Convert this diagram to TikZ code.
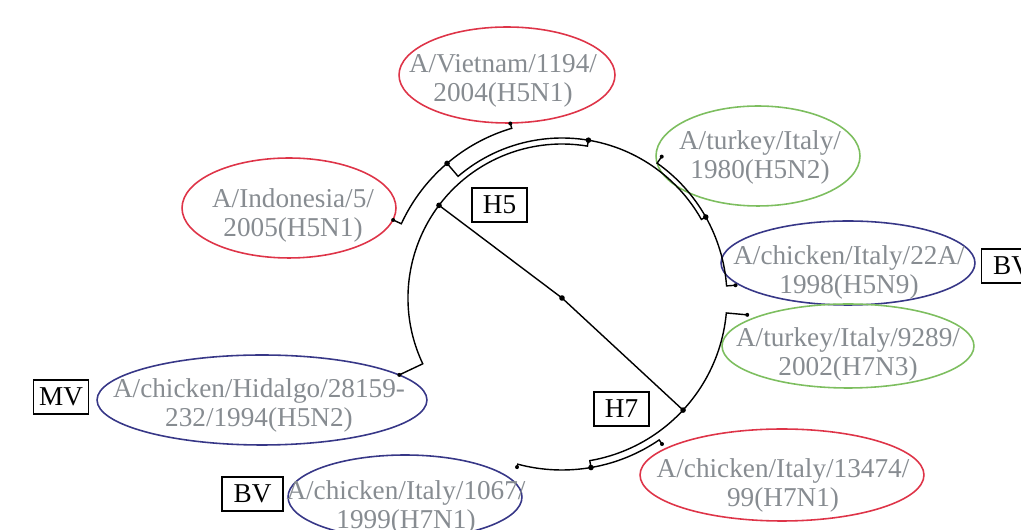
\documentclass[tikz,border=0pt]{standalone}
\usepackage{fontspec}
\setmainfont{Liberation Serif}
\usepackage{tikz}
\usetikzlibrary{shapes.geometric}
\definecolor{ringred}{RGB}{222,52,72}
\definecolor{ringgreen}{RGB}{125,190,95}
\definecolor{ringblue}{RGB}{55,55,135}
\definecolor{straingray}{RGB}{135,140,145}
\begin{document}
\begin{tikzpicture}[x=0.02cm, y=0.02cm]
  \tikzset{
    branch/.style={
      draw=black,
      line width=0.8pt
    },
    strainring/.style={
      draw,
      ellipse,
      inner sep=0pt,
      line width=0.9pt
    },
    strain/.style={
      font=\fontsize{15.5}{16.5}\selectfont,
      text=straingray,
      align=center,
      inner sep=0pt
    },
    tag/.style={
      draw=black,
      line width=1pt,
      minimum width=1.1cm,
      minimum height=0.68cm,
      inner sep=0pt,
      font=\fontsize{15.5}{16.5}\selectfont
    }
  }
  \useasboundingbox (0,0) rectangle (1021,530);

  % Ellipses round the strains
  \node[strainring, draw=ringred, minimum width=4.32cm, minimum height=1.92cm] (vietnam) at (507,455) {};
  \node[strainring, draw=ringgreen, minimum width=4.08cm, minimum height=2cm] (turkeyA) at (758,374) {};
  \node[strainring, draw=ringred, minimum width=4.28cm, minimum height=2cm] (indonesia) at (289,322) {};
  \node[strainring, draw=ringblue, minimum width=5.08cm, minimum height=1.68cm] (chickenA) at (848,267) {};
  \node[strainring, draw=ringgreen, minimum width=5.04cm, minimum height=1.68cm] (turkeyB) at (848,184) {};
  \node[strainring, draw=ringblue, minimum width=6.6cm, minimum height=1.8cm] (hidalgo) at (262,130) {};
  \node[strainring, draw=ringred, minimum width=5.68cm, minimum height=1.84cm] (chickenB) at (782,55) {};
  \node[strainring, draw=ringblue, minimum width=4.68cm, minimum height=1.68cm] (chickenC) at (405,33) {};

  % Strain names
  \node[strain] (vietnamname) at (503,449) {A/Vietnam/1194/\\2004(H5N1)};
  \node[strain] (turkeyAname) at (760,373) {A/turkey/Italy/\\1980(H5N2)};
  \node[strain] (indonesianame) at (293,315) {A/Indonesia/5/\\2005(H5N1)};
  \node[strain] (chickenAname) at (849,258) {A/chicken/Italy/22A/\\1998(H5N9)};
  \node[strain] (turkeyBname) at (848,176) {A/turkey/Italy/9289/\\2002(H7N3)};
  \node[strain] (hidalgoname) at (259,125) {A/chicken/Hidalgo/28159-\\232/1994(H5N2)};
  \node[strain] (chickenBname) at (783,45) {A/chicken/Italy/13474/\\99(H7N1)};
  \node[strain] (chickenCname) at (406,23) {A/chicken/Italy/1067/\\1999(H7N1)};

  % Boxed tags
  \node[tag] (H5) at (499.5,325) {H5};
  \node[tag] (H7) at (621.5,121) {H7};
  \node[tag] (MV) at (61,133) {MV};
  \node[tag, minimum width=1.22cm] (BVa) at (252.5,36) {BV};
  \node[tag, minimum width=1.22cm] (BVb) at (1012,264) {BV};

  % Tree, centred on the root
  \begin{scope}[shift={(562,232)}]
    \coordinate (root) at (0,0);
    \coordinate (h5) at (143:154);
    \coordinate (h7) at (-42.8:165);
    \coordinate (nA) at (130.5:177);
    \coordinate (nB) at (80.5:160);
    \coordinate (nD) at (29.4:165);
    \coordinate (nE) at (-80.3:172);
    % leaf tips
    \coordinate (vietnamtip) at (106.5:182);
    \coordinate (indonesiatip) at (155.2:186);
    \coordinate (hidalgotip) at (205.3:180);
    \coordinate (turkeyAtip) at (54.8:173);
    \coordinate (chickenAtip) at (4.2:174);
    \coordinate (turkeyBtip) at (-5.2:186);
    \coordinate (chickenBtip) at (-55.6:177);
    \coordinate (chickenCtip) at (-104.9:175);

    \draw[branch] (h5) -- (root) -- (h7);
    % H5 clade
    \draw[branch] (hidalgotip) -- (205.3:154) arc[start angle=205.3, end angle=80.5, radius=154] -- (nB);
    \draw[branch] (nA) -- (130.5:160) arc[start angle=130.5, end angle=29.4, radius=160] -- (nD);
    \draw[branch] (indonesiatip) -- (155.2:177) arc[start angle=155.2, end angle=106.5, radius=177] -- (vietnamtip);
    \draw[branch] (turkeyAtip) -- (54.8:165) arc[start angle=54.8, end angle=4.2, radius=165] -- (chickenAtip);
    % H7 clade
    \draw[branch] (turkeyBtip) -- (-5.2:165) arc[start angle=-5.2, end angle=-80.3, radius=165] -- (nE);
    \draw[branch] (chickenBtip) -- (-55.6:172) arc[start angle=-55.6, end angle=-104.9, radius=172] -- (chickenCtip);

    % Joints and leaf ends
    \foreach \p in {root, h5, h7, nA, nB, nD, nE}
      \fill (\p) circle (2.8);
    \foreach \p in {vietnamtip, indonesiatip, hidalgotip, turkeyAtip, chickenAtip, turkeyBtip, chickenBtip, chickenCtip}
      \fill (\p) circle (2);
  \end{scope}
\end{tikzpicture}
\end{document}
